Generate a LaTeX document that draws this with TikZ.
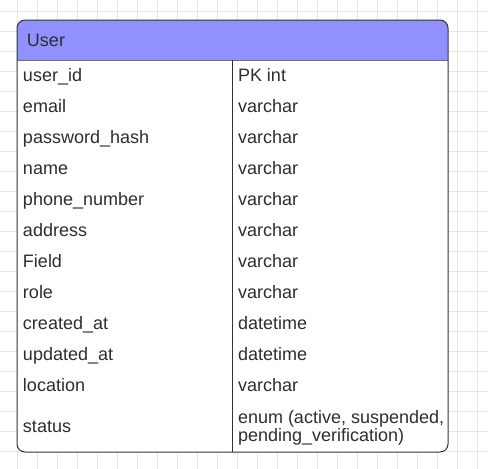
\documentclass[tikz,border=0pt]{standalone}
\usepackage{fontspec}
\setmainfont{Liberation Sans}
\definecolor{gridc}{HTML}{E6E6E6}
\definecolor{headc}{HTML}{9090FF}
\definecolor{txt}{HTML}{2E2E2E}
\definecolor{bord}{HTML}{333333}
\definecolor{hline}{HTML}{707070}
\tikzset{
  cell/.style={anchor=base west, inner sep=0pt, outer sep=0pt, text=txt, font=\fontsize{18}{21}\selectfont},
}
\begin{document}
\begin{tikzpicture}[x=1pt,y=-1pt]
\useasboundingbox (0,0) rectangle (488,469);
\fill[white] (0,0) rectangle (488,469);
% grid
\foreach \i in {0,...,23} \draw[gridc, line width=1pt] ({17.5+20*\i},0) -- ({17.5+20*\i},469);
\foreach \j in {0,...,22} \draw[gridc, line width=1pt] (0,{11.7+20*\j}) -- (488,{11.7+20*\j});
% table box
\fill[white, rounded corners=8pt] (17,20) rectangle (448,452);
\begin{scope}
  \clip[rounded corners=8pt] (17,20) rectangle (448,452);
  \fill[headc] (17,20) rectangle (448,60);
\end{scope}
\draw[hline, line width=1pt] (17,60) -- (448,60);
\draw[bord, line width=1pt] (232.7,60) -- (232.7,452);
\draw[bord, line width=1pt, rounded corners=8pt] (17,20) rectangle (448,452);
% header
\node[cell] (title) at (27,46) {User};
% rows
\node[cell] (f1) at (23,81.7) {user\_id};
\node[cell] (t1) at (238,81.7) {PK int};
\node[cell] (f2) at (23,112.7) {email};
\node[cell] (t2) at (238,112.7) {varchar};
\node[cell] (f3) at (23,143.7) {password\_hash};
\node[cell] (t3) at (238,143.7) {varchar};
\node[cell] (f4) at (23,174.7) {name};
\node[cell] (t4) at (238,174.7) {varchar};
\node[cell] (f5) at (23,205.7) {phone\_number};
\node[cell] (t5) at (238,205.7) {varchar};
\node[cell] (f6) at (23,236.7) {address};
\node[cell] (t6) at (238,236.7) {varchar};
\node[cell] (f7) at (23,267.7) {Field};
\node[cell] (t7) at (238,267.7) {varchar};
\node[cell] (f8) at (23,298.7) {role};
\node[cell] (t8) at (238,298.7) {varchar};
\node[cell] (f9) at (23,329.7) {created\_at};
\node[cell] (t9) at (238,329.7) {datetime};
\node[cell] (f10) at (23,360.7) {updated\_at};
\node[cell] (t10) at (238,360.7) {datetime};
\node[cell] (f11) at (23,391.7) {location};
\node[cell] (t11) at (238,391.7) {varchar};
\node[cell] (f12) at (23,432.5) {status};
\node[cell] (t12a) at (238,423.5) {enum (active, suspended,};
\node[cell] (t12b) at (238,441) {pending\_verification)};
\end{tikzpicture}
\end{document}
